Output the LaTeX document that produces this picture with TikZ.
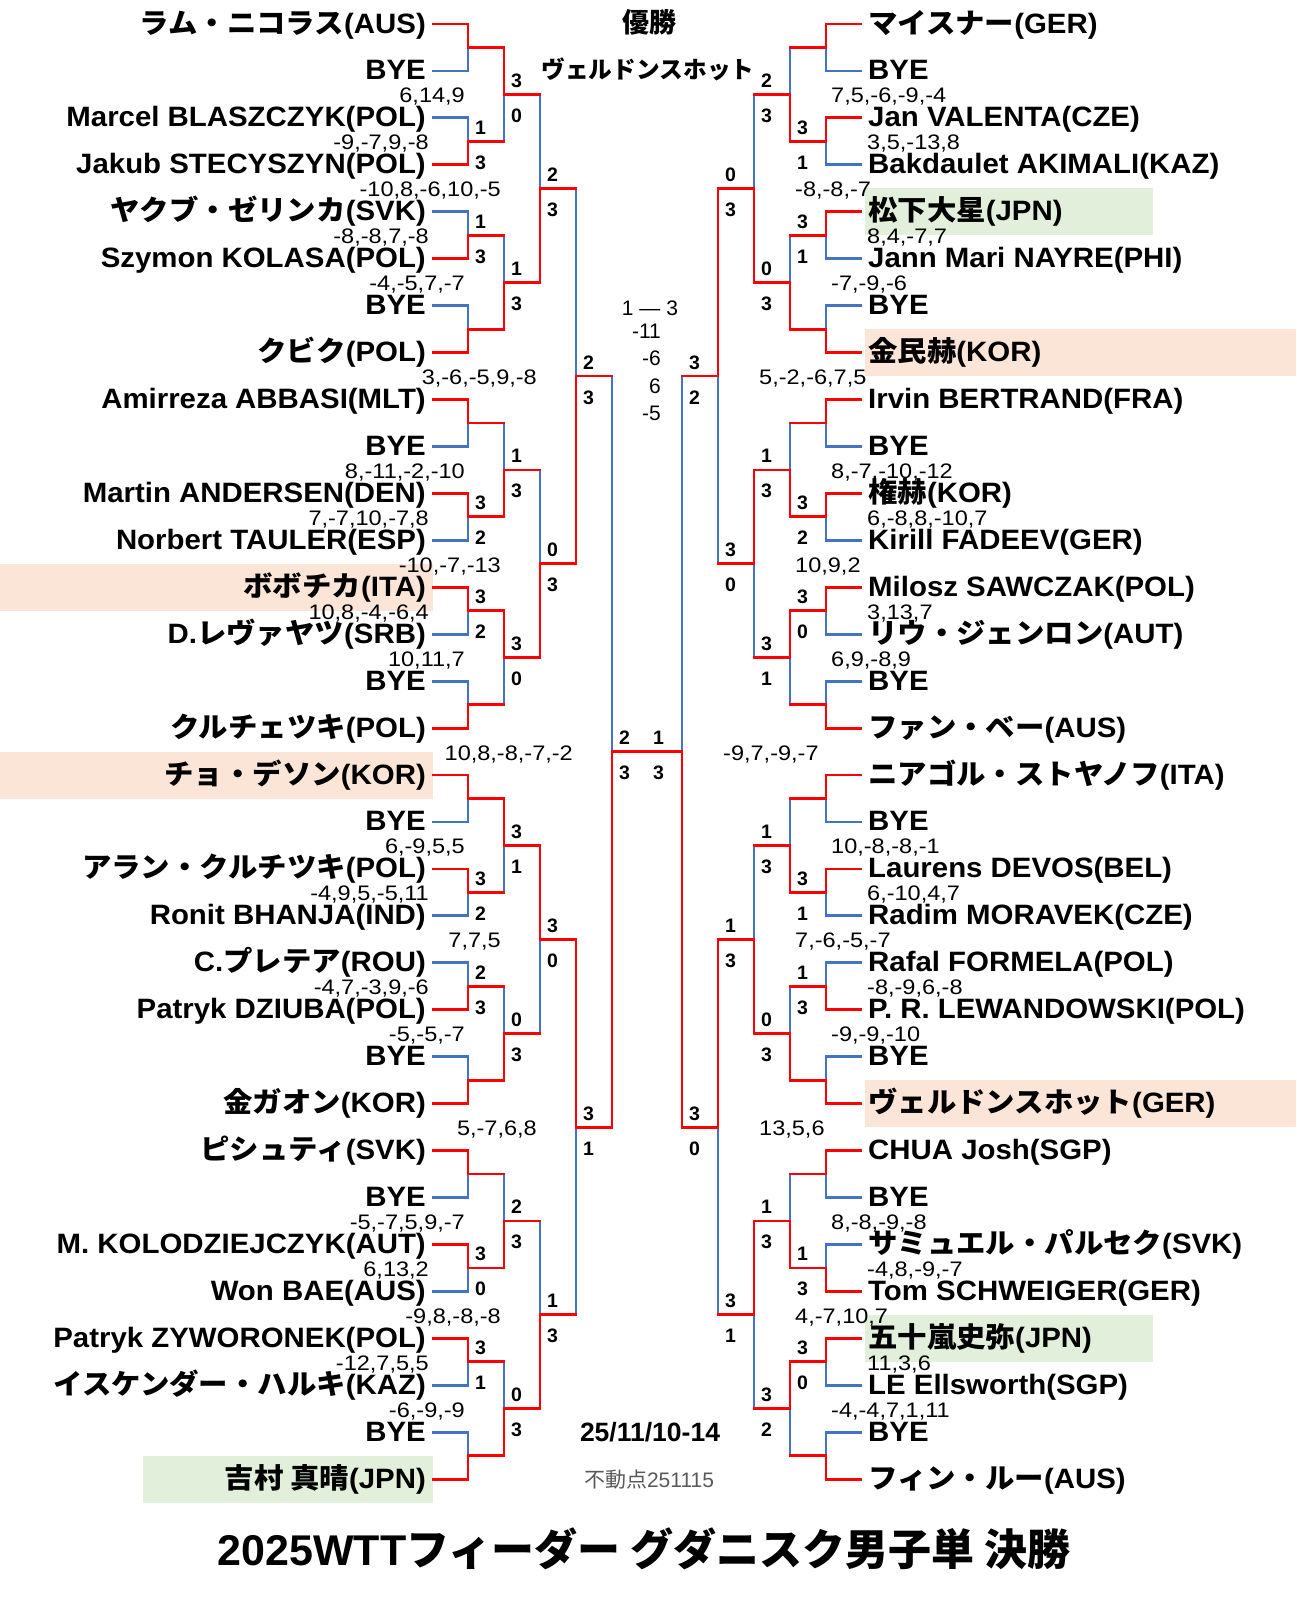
\documentclass[tikz,border=0pt]{standalone}
\usepackage{graphicx}
\usepackage{fontspec}
\setmainfont{Liberation Sans}
\newfontfamily\jp{Noto Sans CJK JP}
\definecolor{redC}{HTML}{FF0000}
\definecolor{bluC}{HTML}{4472C4}
\definecolor{peachC}{HTML}{FBE5D6}
\definecolor{greenC}{HTML}{E2EFDA}
\definecolor{grayC}{HTML}{595959}
\tikzset{
  nm/.style={font=\bfseries\fontsize{28}{30}\selectfont, inner sep=0pt},
  lab/.style={font=\bfseries\fontsize{19.5}{20}\selectfont, inner sep=0pt},
  sco/.style={font=\fontsize{21}{22}\selectfont, inner sep=0pt},
  rl/.style={draw=redC, line width=2.8pt, line cap=rect, line join=miter},
  bl/.style={draw=bluC, line width=2.8pt, line cap=rect, line join=miter},
}
\newcommand\nameL[2]{\node[nm, anchor=base east] (Ln-#1) at (426,{24+46.94*#1+9}) {\scalebox{1.05}[1]{#2}};
  \coordinate (L-p-#1) at (433,{24+46.94*#1});}
\newcommand\nameR[2]{\node[nm, anchor=base west] (Rn-#1) at (868,{24+46.94*#1+9}) {\scalebox{1.05}[1]{#2}};
  \coordinate (R-p-#1) at (861,{24+46.94*#1});}
% #1 side, #2 round, #3 list k/w, #4 pass (0 blue,1 red), #5 style
\newcommand\drawround[5]{%
  \foreach \kk/\ww in {#3}{%
    \pgfmathtruncatemacro\kt{2*\kk}%
    \pgfmathtruncatemacro\kb{2*\kk+1}%
    \ifnum\ww=#4\relax
      \ifnum#2=1 \draw[#5] (#1-p-\kb) -- (#1-1-\kk-b) -- (#1-1-\kk);
      \else \draw[#5] (#1-#2-\kk-b) -- (#1-#2-\kk); \fi
    \else
      \ifnum#2=1 \draw[#5] (#1-p-\kt) -- (#1-1-\kk-t) -- (#1-1-\kk);
      \else \draw[#5] (#1-#2-\kk-t) -- (#1-#2-\kk); \fi
    \fi
  }%
}
% output lines of round #2 on side #1
\newcommand\outlines[2]{%
  \pgfmathtruncatemacro\nn{2^(5-#2)-1}%
  \pgfmathtruncatemacro\rn{#2+1}%
  \foreach \kk in {0,...,\nn}{%
    \pgfmathtruncatemacro\kn{\kk/2}%
    \pgfmathtruncatemacro\kp{mod(\kk,2)}%
    \ifnum\kp=0 \def\tb{t}\else\def\tb{b}\fi
    \draw[rl] (#1-#2-\kk) -- (#1-\rn-\kn-\tb);
  }%
}
% labels and score: #1 side, #2 round, #3 k, #4 upper, #5 lower, #6 score
\newcommand\labsc[6]{%
  \pgfmathsetmacro\mm{24+46.94*(2^#2*#3+2^(#2-1)-0.5)}%
  \ifx L#1
    \pgfmathsetmacro\xa{468+36*(#2-1)+7}%
    \pgfmathsetmacro\xs{468+36*(#2-1)-39}%
    \node[lab, anchor=base west] (#1u-#2-#3) at (\xa,{\mm-7}) {#4};
    \node[lab, anchor=base west] (#1d-#2-#3) at (\xa,{\mm+28}) {#5};
    \node[sco, anchor=base east] (#1s-#2-#3) at (\xs,{\mm+8.5}) {\scalebox{1.12}[1]{#6}};
  \else
    \pgfmathsetmacro\xa{826-36*(#2-1)-29}%
    \pgfmathsetmacro\xs{826-36*(#2-1)+41}%
    \node[lab, anchor=base west] (#1u-#2-#3) at (\xa,{\mm-7}) {#4};
    \node[lab, anchor=base west] (#1d-#2-#3) at (\xa,{\mm+28}) {#5};
    \node[sco, anchor=base west] (#1s-#2-#3) at (\xs,{\mm+8.5}) {\scalebox{1.12}[1]{#6}};
  \fi
}
\begin{document}
\begin{tikzpicture}[x=1pt,y=-1pt]
\useasboundingbox (0,0) rectangle (1296,1598);
% highlight boxes
\fill[peachC] (0,563.8) rectangle (433,610.8);
\fill[peachC] (0,751.6) rectangle (433,798.5);
\fill[greenC] (143,1455.7) rectangle (433,1502.6);
\fill[greenC] (865,188.3) rectangle (1153,235.2);
\fill[peachC] (865,329.1) rectangle (1296,376.1);
\fill[peachC] (865,1080.2) rectangle (1296,1127.1);
\fill[greenC] (865,1314.9) rectangle (1153,1361.8);
% bracket coordinates
\foreach \rr in {1,...,5}{%
  \pgfmathtruncatemacro\nn{2^(5-\rr)-1}%
  \pgfmathsetmacro\hh{46.94*2^\rr/4}%
  \pgfmathsetmacro\xl{468+36*(\rr-1)}%
  \pgfmathsetmacro\xr{826-36*(\rr-1)}%
  \foreach \kk in {0,...,\nn}{%
    \pgfmathsetmacro\mm{24+46.94*(2^\rr*\kk+2^(\rr-1)-0.5)}%
    \coordinate (L-\rr-\kk) at (\xl,\mm);
    \coordinate (L-\rr-\kk-t) at (\xl,{\mm-\hh});
    \coordinate (L-\rr-\kk-b) at (\xl,{\mm+\hh});
    \coordinate (R-\rr-\kk) at (\xr,\mm);
    \coordinate (R-\rr-\kk-t) at (\xr,{\mm-\hh});
    \coordinate (R-\rr-\kk-b) at (\xr,{\mm+\hh});
  }%
}
% names
\nameL{0}{{\jp ラム・ニコラス}(AUS)}
\nameL{1}{BYE}
\nameL{2}{Marcel BLASZCZYK(POL)}
\nameL{3}{Jakub STECYSZYN(POL)}
\nameL{4}{{\jp ヤクブ・ゼリンカ}(SVK)}
\nameL{5}{Szymon KOLASA(POL)}
\nameL{6}{BYE}
\nameL{7}{{\jp クビク}(POL)}
\nameL{8}{Amirreza ABBASI(MLT)}
\nameL{9}{BYE}
\nameL{10}{Martin ANDERSEN(DEN)}
\nameL{11}{Norbert TAULER(ESP)}
\nameL{12}{{\jp ボボチカ}(ITA)}
\nameL{13}{D.{\jp レヴァヤツ}(SRB)}
\nameL{14}{BYE}
\nameL{15}{{\jp クルチェツキ}(POL)}
\nameL{16}{{\jp チョ・デソン}(KOR)}
\nameL{17}{BYE}
\nameL{18}{{\jp アラン・クルチツキ}(POL)}
\nameL{19}{Ronit BHANJA(IND)}
\nameL{20}{C.{\jp プレテア}(ROU)}
\nameL{21}{Patryk DZIUBA(POL)}
\nameL{22}{BYE}
\nameL{23}{{\jp 金ガオン}(KOR)}
\nameL{24}{{\jp ピシュティ}(SVK)}
\nameL{25}{BYE}
\nameL{26}{M. KOLODZIEJCZYK(AUT)}
\nameL{27}{Won BAE(AUS)}
\nameL{28}{Patryk ZYWORONEK(POL)}
\nameL{29}{{\jp イスケンダー・ハルキ}(KAZ)}
\nameL{30}{BYE}
\nameL{31}{{\jp 吉村 真晴}(JPN)}
\nameR{0}{{\jp マイスナー}(GER)}
\nameR{1}{BYE}
\nameR{2}{Jan VALENTA(CZE)}
\nameR{3}{Bakdaulet AKIMALI(KAZ)}
\nameR{4}{{\jp 松下大星}(JPN)}
\nameR{5}{Jann Mari NAYRE(PHI)}
\nameR{6}{BYE}
\nameR{7}{{\jp 金民赫}(KOR)}
\nameR{8}{Irvin BERTRAND(FRA)}
\nameR{9}{BYE}
\nameR{10}{{\jp 権赫}(KOR)}
\nameR{11}{Kirill FADEEV(GER)}
\nameR{12}{Milosz SAWCZAK(POL)}
\nameR{13}{{\jp リウ・ジェンロン}(AUT)}
\nameR{14}{BYE}
\nameR{15}{{\jp ファン・ベー}(AUS)}
\nameR{16}{{\jp ニアゴル・ストヤノフ}(ITA)}
\nameR{17}{BYE}
\nameR{18}{Laurens DEVOS(BEL)}
\nameR{19}{Radim MORAVEK(CZE)}
\nameR{20}{Rafal FORMELA(POL)}
\nameR{21}{P. R. LEWANDOWSKI(POL)}
\nameR{22}{BYE}
\nameR{23}{{\jp ヴェルドンスホット}(GER)}
\nameR{24}{CHUA Josh(SGP)}
\nameR{25}{BYE}
\nameR{26}{{\jp サミュエル・パルセク}(SVK)}
\nameR{27}{Tom SCHWEIGER(GER)}
\nameR{28}{{\jp 五十嵐史弥}(JPN)}
\nameR{29}{LE Ellsworth(SGP)}
\nameR{30}{BYE}
\nameR{31}{{\jp フィン・ルー}(AUS)}
% blue pass
\drawround{L}{1}{0/0,1/1,2/1,3/1,4/0,5/0,6/0,7/1,8/0,9/0,10/1,11/1,12/0,13/0,14/0,15/1}{0}{bl}
\drawround{L}{2}{0/0,1/1,2/1,3/0,4/0,5/1,6/1,7/1}{0}{bl}
\drawround{L}{3}{0/1,1/1,2/0,3/1}{0}{bl}
\drawround{L}{4}{0/1,1/0}{0}{bl}
\drawround{L}{5}{0/1}{0}{bl}
\drawround{R}{1}{0/0,1/0,2/0,3/1,4/0,5/0,6/0,7/1,8/0,9/0,10/1,11/1,12/0,13/1,14/0,15/1}{0}{bl}
\drawround{R}{2}{0/1,1/1,2/1,3/0,4/1,5/1,6/1,7/0}{0}{bl}
\drawround{R}{3}{0/1,1/0,2/1,3/0}{0}{bl}
\drawround{R}{4}{0/0,1/0}{0}{bl}
\drawround{R}{5}{0/1}{0}{bl}
% red pass
\drawround{L}{1}{0/0,1/1,2/1,3/1,4/0,5/0,6/0,7/1,8/0,9/0,10/1,11/1,12/0,13/0,14/0,15/1}{1}{rl}
\drawround{L}{2}{0/0,1/1,2/1,3/0,4/0,5/1,6/1,7/1}{1}{rl}
\drawround{L}{3}{0/1,1/1,2/0,3/1}{1}{rl}
\drawround{L}{4}{0/1,1/0}{1}{rl}
\drawround{L}{5}{0/1}{1}{rl}
\drawround{R}{1}{0/0,1/0,2/0,3/1,4/0,5/0,6/0,7/1,8/0,9/0,10/1,11/1,12/0,13/1,14/0,15/1}{1}{rl}
\drawround{R}{2}{0/1,1/1,2/1,3/0,4/1,5/1,6/1,7/0}{1}{rl}
\drawround{R}{3}{0/1,1/0,2/1,3/0}{1}{rl}
\drawround{R}{4}{0/0,1/0}{1}{rl}
\drawround{R}{5}{0/1}{1}{rl}
\outlines{L}{1}\outlines{L}{2}\outlines{L}{3}\outlines{L}{4}
\outlines{R}{1}\outlines{R}{2}\outlines{R}{3}\outlines{R}{4}
\draw[rl] (L-5-0) -- (R-5-0);
% labels and scores, left
\labsc{L}{1}{1}{1}{3}{-9,-7,9,-8}
\labsc{L}{1}{2}{1}{3}{-8,-8,7,-8}
\labsc{L}{1}{5}{3}{2}{7,-7,10,-7,8}
\labsc{L}{1}{6}{3}{2}{10,8,-4,-6,4}
\labsc{L}{1}{9}{3}{2}{-4,9,5,-5,11}
\labsc{L}{1}{10}{2}{3}{-4,7,-3,9,-6}
\labsc{L}{1}{13}{3}{0}{6,13,2}
\labsc{L}{1}{14}{3}{1}{-12,7,5,5}
\labsc{L}{2}{0}{3}{0}{6,14,9}
\labsc{L}{2}{1}{1}{3}{-4,-5,7,-7}
\labsc{L}{2}{2}{1}{3}{8,-11,-2,-10}
\labsc{L}{2}{3}{3}{0}{10,11,7}
\labsc{L}{2}{4}{3}{1}{6,-9,5,5}
\labsc{L}{2}{5}{0}{3}{-5,-5,-7}
\labsc{L}{2}{6}{2}{3}{-5,-7,5,9,-7}
\labsc{L}{2}{7}{0}{3}{-6,-9,-9}
\labsc{L}{3}{0}{2}{3}{-10,8,-6,10,-5}
\labsc{L}{3}{1}{0}{3}{-10,-7,-13}
\labsc{L}{3}{2}{3}{0}{7,7,5}
\labsc{L}{3}{3}{1}{3}{-9,8,-8,-8}
\labsc{L}{4}{0}{2}{3}{3,-6,-5,9,-8}
\labsc{L}{4}{1}{3}{1}{5,-7,6,8}
\labsc{L}{5}{0}{2}{3}{10,8,-8,-7,-2}
% labels and scores, right
\labsc{R}{1}{1}{3}{1}{3,5,-13,8}
\labsc{R}{1}{2}{3}{1}{8,4,-7,7}
\labsc{R}{1}{5}{3}{2}{6,-8,8,-10,7}
\labsc{R}{1}{6}{3}{0}{3,13,7}
\labsc{R}{1}{9}{3}{1}{6,-10,4,7}
\labsc{R}{1}{10}{1}{3}{-8,-9,6,-8}
\labsc{R}{1}{13}{1}{3}{-4,8,-9,-7}
\labsc{R}{1}{14}{3}{0}{11,3,6}
\labsc{R}{2}{0}{2}{3}{7,5,-6,-9,-4}
\labsc{R}{2}{1}{0}{3}{-7,-9,-6}
\labsc{R}{2}{2}{1}{3}{8,-7,-10,-12}
\labsc{R}{2}{3}{3}{1}{6,9,-8,9}
\labsc{R}{2}{4}{1}{3}{10,-8,-8,-1}
\labsc{R}{2}{5}{0}{3}{-9,-9,-10}
\labsc{R}{2}{6}{1}{3}{8,-8,-9,-8}
\labsc{R}{2}{7}{3}{2}{-4,-4,7,1,11}
\labsc{R}{3}{0}{0}{3}{-8,-8,-7}
\labsc{R}{3}{1}{3}{0}{10,9,2}
\labsc{R}{3}{2}{1}{3}{7,-6,-5,-7}
\labsc{R}{3}{3}{3}{1}{4,-7,10,7}
\labsc{R}{4}{0}{3}{2}{5,-2,-6,7,5}
\labsc{R}{4}{1}{3}{0}{13,5,6}
\labsc{R}{5}{0}{1}{3}{-9,7,-9,-7}
% centre texts
\node[font=\jp\bfseries\fontsize{27}{27}\selectfont, anchor=base, inner sep=0pt] (champT) at (649,32) {優勝};
\node[font=\jp\bfseries\fontsize{23.7}{24}\selectfont, anchor=base, inner sep=0pt] (champN) at (648,78) {ヴェルドンスホット};
\node[sco, anchor=base] (fin0) at (650,315) {1 — 3};
\node[sco, anchor=base east] (fin1) at (661,338) {-11};
\node[sco, anchor=base east] (fin2) at (661,365) {-6};
\node[sco, anchor=base east] (fin3) at (661,393) {6};
\node[sco, anchor=base east] (fin4) at (661,420) {-5};
\node[font=\bfseries\fontsize{26.5}{27}\selectfont, anchor=base, inner sep=0pt] (dates) at (650,1441) {25/11/10-14};
\node[font=\fontsize{21}{21}\selectfont, text=grayC, anchor=base, inner sep=0pt] (fixpt) at (649,1487) {{\jp 不動点}251115};
\node[font=\bfseries\fontsize{43}{44}\selectfont, anchor=base, inner sep=0pt] (title) at (644,1565) {2025WTT{\jp フィーダー グダニスク男子単 決勝}};
\end{tikzpicture}
\end{document}
